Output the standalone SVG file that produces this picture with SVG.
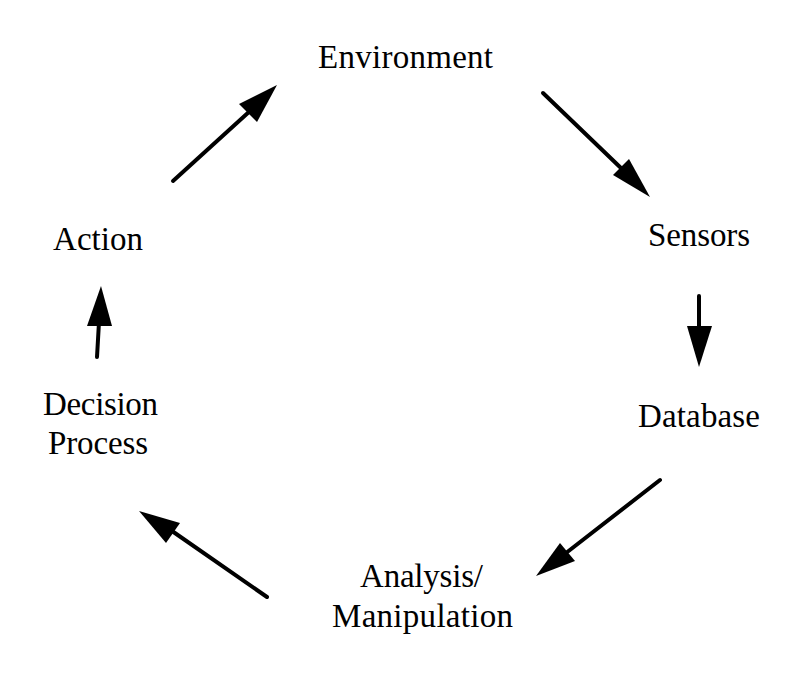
<svg xmlns="http://www.w3.org/2000/svg" width="807" height="678" viewBox="0 0 807 678">
<style>
text{font-family:"Liberation Serif","Times New Roman",serif;font-size:33px;fill:#000}
.ln{stroke:#000;stroke-width:4;stroke-linecap:round;fill:none}
.hd{fill:#000;stroke:none}
</style>
<rect width="807" height="678" fill="#fff"/>
<g id="environment"><text x="318" y="68" textLength="175">Environment</text></g>
<g id="sensors"><text x="648" y="246" textLength="102">Sensors</text></g>
<g id="database"><text x="638" y="427" textLength="122">Database</text></g>
<g id="analysis"><text x="360" y="587" textLength="123">Analysis/</text><text x="332" y="627" textLength="181">Manipulation</text></g>
<g id="decision"><text x="43" y="415" textLength="115">Decision</text><text x="48" y="454" textLength="100">Process</text></g>
<g id="action"><text x="53" y="250" textLength="90">Action</text></g>
<g id="connectors">
<line class="ln" x1="173" y1="181" x2="250" y2="111"/>
<polygon class="hd" points="277,85 239,104 257,122"/>
<line class="ln" x1="543" y1="93" x2="622" y2="169"/>
<polygon class="hd" points="650,197 613,175 629,159"/>
<line class="ln" x1="699" y1="296" x2="699" y2="330"/>
<polygon class="hd" points="699,367 687,326 712,326"/>
<line class="ln" x1="660" y1="480" x2="566" y2="553"/>
<polygon class="hd" points="536,576 560,543 575,561"/>
<line class="ln" x1="267" y1="597" x2="172" y2="531"/>
<polygon class="hd" points="139,511 180,523 166,543"/>
<line class="ln" x1="97" y1="357" x2="99" y2="322"/>
<polygon class="hd" points="101,286 87,326 112,326"/>
</g>
</svg>
